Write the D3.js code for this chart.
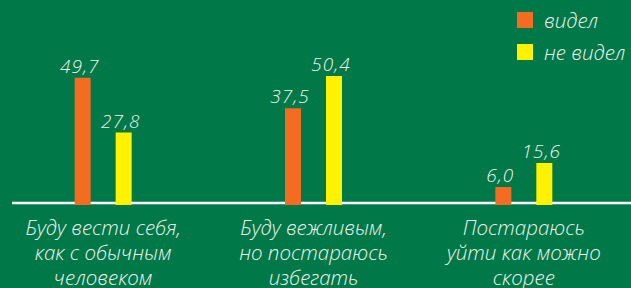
<!DOCTYPE html>
<html>
<head>
<meta charset="utf-8">
<script src="https://cdn.jsdelivr.net/npm/d3@7"></script>
<style>
  html, body { margin: 0; padding: 0; background: #007848; }
  svg { display: block; }
  text { font-family: "Open Sans", "Noto Sans", sans-serif; font-style: italic; font-weight: 300; fill: #eef3ee; }
</style>
</head>
<body>
<svg id="chart" width="631" height="288"></svg>
<script>
// data
var categories = ["Буду вести себя, как с обычным человеком",
                  "Буду вежливым, но постараюсь избегать",
                  "Постараюсь уйти как можно скорее"];
var categoryLines = [["Буду вести себя,", "как с обычным", "человеком"],
                     ["Буду вежливым,", "но постараюсь", "избегать"],
                     ["Постараюсь", "уйти как можно", "скорее"]];
var series = ["видел", "не видел"];
var seen = [49.7, 37.5, 6.0];
var notSeen = [27.8, 50.4, 15.6];
var colors = ["#f36c21", "#fff200"];

var width = 631;
var height = 288;
var svg = d3.select("#chart");

svg.append("rect").attr("width", width).attr("height", height).attr("fill", "#007848");

var x0 = d3.scaleBand().domain(categories).range([-2, width - 2]);
var x1 = d3.scalePoint().domain(series).range([-20.5, 20.5]);
var y = d3.scaleLinear().domain([0, 60]).range([202, 52]);
var barW = 16;

var locale = d3.formatLocale({decimal: ",", thousands: " ", grouping: [3], currency: ["", ""]});
var fmt = locale.format(".1f");

var rows = [];
categories.forEach(function(c, i) {
    rows.push({cat: c, s: series[0], v: seen[i], col: colors[0]});
    rows.push({cat: c, s: series[1], v: notSeen[i], col: colors[1]});
});

// baseline
svg.append("line")
    .attr("x1", 12).attr("x2", width)
    .attr("y1", y(0) + 1).attr("y2", y(0) + 1)
    .attr("stroke", "#ffffff")
    .attr("stroke-width", 2.5);

svg.selectAll("rect.bar")
    .data(rows)
    .enter().append("rect")
    .attr("class", "bar")
    .attr("x", d => x0(d.cat) + x0.bandwidth() / 2 + x1(d.s) - barW / 2)
    .attr("y", d => y(d.v))
    .attr("width", barW)
    .attr("height", d => y(0) - y(d.v) + 3)
    .attr("fill", d => d.col);

svg.selectAll("text.val")
    .data(rows)
    .enter().append("text")
    .attr("class", "val")
    .attr("x", d => x0(d.cat) + x0.bandwidth() / 2 + x1(d.s) - 3)
    .attr("y", d => y(d.v) - 5)
    .attr("text-anchor", "middle")
    .style("font-size", "19px")
    .style("letter-spacing", "1px")
    .text(d => fmt(d.v));

// category labels
var lab = svg.selectAll("text.cat")
    .data(categories)
    .enter().append("text")
    .attr("class", "cat")
    .attr("text-anchor", "middle")
    .style("font-size", "20.5px");

lab.selectAll("tspan")
    .data((d, i) => categoryLines[i].map(t => ({t: t, c: d})))
    .enter().append("tspan")
    .attr("x", d => x0(d.c) + x0.bandwidth() / 2)
    .attr("y", (d, j) => 235 + j * 25)
    .text(d => d.t);

// legend
var leg = svg.selectAll("g.leg")
    .data(series)
    .enter().append("g")
    .attr("class", "leg")
    .attr("transform", (d, i) => `translate(517, ${12 + i * 32})`);

leg.append("rect")
    .attr("width", 16).attr("height", 16)
    .attr("fill", (d, i) => colors[i]);

leg.append("text")
    .attr("x", 27)
    .attr("y", 15.5)
    .style("font-size", "20.5px")
    .text(d => d);
</script>
</body>
</html>
